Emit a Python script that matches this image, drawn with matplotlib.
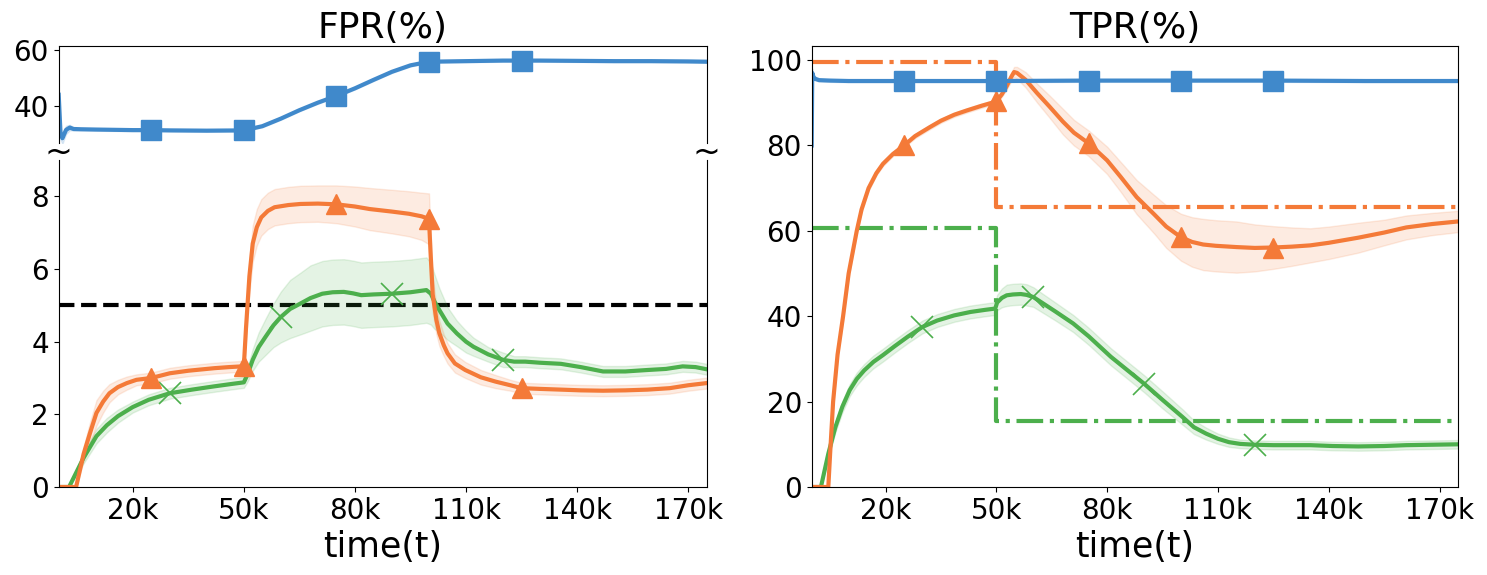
import numpy as np
import matplotlib
matplotlib.use("Agg")
import matplotlib.pyplot as plt

# colours
blue = '#4089cb'
orange = '#f47a38'
green = '#4caf4c'

# ---- FPR (left) ----
fpr_blue_t = [0, 0.5, 1, 2, 3, 4, 6, 10, 15, 20, 25, 30, 40, 50, 55, 60, 65, 70, 75, 80,
              85, 90, 95, 100, 105, 110, 115, 120, 125, 130, 140, 150, 160, 170, 175]
fpr_blue = [44, 30, 28.5, 31.5, 32.3, 31.8, 31.7, 31.6, 31.5, 31.4, 31.4, 31.3, 31.2, 31.3, 32.8,
            35.5, 38.5, 41.2, 43.6, 46.3, 49.3, 52.2, 54.5, 55.8, 55.9, 56.0, 56.1, 56.2, 56.2,
            56.2, 56.1, 56.0, 56.0, 55.9, 55.8]
fpr_blue_sd = [3, 2, 2, 1.5, 1, 0.6] + [0.4] * 29

fpr_orange_t = [0, 4.7, 6.7, 8.5, 10.2, 12, 13.7, 16, 18.4, 21, 25, 30, 35, 42, 46, 49.5, 50,
                50.6, 51.5, 52.4, 53.5, 54.7, 56.5, 58.3, 62, 65.3, 70, 75, 80, 84, 90, 94.6, 98,
                100, 100.4, 101, 102, 102.8, 104, 105, 107, 109.8, 114, 118, 122, 125, 130,
                135.6, 141, 147, 153, 159, 165, 170, 175]
fpr_orange = [0, 0, 0.9, 1.5, 2.04, 2.35, 2.58, 2.75, 2.86, 2.95, 3.0, 3.13, 3.2, 3.27, 3.3,
              3.32, 3.33, 4.4, 5.8, 6.7, 7.15, 7.42, 7.6, 7.7, 7.76, 7.79, 7.8, 7.78, 7.72, 7.65,
              7.58, 7.52, 7.45, 7.38, 6.5, 5.3, 4.6, 4.23, 3.9, 3.68, 3.4, 3.22, 3.02, 2.9, 2.8,
              2.72, 2.7, 2.68, 2.66, 2.65, 2.66, 2.68, 2.72, 2.8, 2.86]
fpr_orange_sd = [0, 0, 0.2, 0.3, 0.35, 0.3, 0.25, 0.2, 0.18, 0.15, 0.15, 0.15, 0.15, 0.15, 0.15,
                 0.15, 0.15, 0.3, 0.45, 0.5, 0.5, 0.5, 0.5, 0.5, 0.5, 0.5, 0.5, 0.52, 0.55, 0.58,
                 0.6, 0.62, 0.65, 0.7, 0.6, 0.5, 0.4, 0.35, 0.3, 0.28, 0.25, 0.22, 0.2, 0.18, 0.15,
                 0.15, 0.15, 0.15, 0.15, 0.15, 0.15, 0.15, 0.15, 0.15, 0.15]

fpr_green_t = [0, 2.8, 6.7, 10.2, 13, 16, 20, 24.3, 30, 36, 42, 47, 50, 51, 52.4, 54, 55.9, 58,
               60, 62.5, 65.3, 68, 71.2, 74, 77, 79.5, 81.7, 85, 90, 95, 99.3, 100.5, 101.5,
               102.8, 105, 107.5, 110, 112, 116, 120, 123, 126, 130, 135.6, 141, 147, 153, 159,
               164, 168.5, 172, 175]
fpr_green = [0, 0, 0.8, 1.4, 1.7, 1.95, 2.2, 2.4, 2.58, 2.68, 2.77, 2.84, 2.88, 3.1, 3.5, 3.85,
             4.14, 4.45, 4.68, 4.9, 5.05, 5.2, 5.32, 5.36, 5.37, 5.33, 5.28, 5.3, 5.32, 5.36, 5.42,
             5.32, 5.1, 4.87, 4.5, 4.23, 4.0, 3.86, 3.65, 3.5, 3.45, 3.45, 3.42, 3.39, 3.3, 3.18,
             3.18, 3.22, 3.25, 3.32, 3.3, 3.24]
fpr_green_sd = [0, 0, 0.15, 0.2, 0.2, 0.18, 0.15, 0.15, 0.15, 0.15, 0.15, 0.15, 0.15, 0.2, 0.3,
                0.4, 0.5, 0.6, 0.7, 0.8, 0.85, 0.9, 0.9, 0.9, 0.9, 0.9, 0.9, 0.9, 0.9, 0.9, 0.9,
                0.85, 0.75, 0.6, 0.45, 0.35, 0.3, 0.25, 0.2, 0.2] + [0.15] * 12

fpr_limit = 5

# ---- TPR (right) ----
tpr_blue_t = [0, 0.15, 0.5, 1, 2, 5, 10, 25, 50, 75, 100, 125, 150, 175]
tpr_blue = [80, 97, 96, 95.6, 95.3, 95.2, 95.1, 95.1, 95.1, 95.2, 95.2, 95.2, 95.1, 95.1]
tpr_blue_sd = [1, 1, 0.6, 0.4] + [0.3] * 10

tpr_orange_t = [0, 4.5, 5, 5.8, 7, 8.5, 10, 12.2, 13.5, 15.4, 17.5, 19.3, 22, 25, 28, 32, 35,
                38.6, 42, 46, 50, 51.5, 52.8, 54, 54.8, 55.6, 57.9, 61, 64.4, 68, 71, 75, 80,
                83.7, 88, 92.7, 96, 100, 103, 106, 109.4, 115, 120, 125, 130, 135, 140, 148, 155,
                161, 168, 175]
tpr_orange = [0, 0, 8, 20, 31, 40, 50, 60, 65, 70, 73.5, 75.7, 78, 80, 82.2, 84.3, 85.8, 87.2,
              88.2, 89.3, 90.3, 92, 93.9, 96, 97.2, 97.0, 95.4, 92.3, 89.1, 85.6, 83, 80.5, 76.5,
              72.6, 67.9, 63.9, 61, 58.5, 57.4, 56.8, 56.5, 56.2, 56.0, 56.1, 56.3, 56.6, 57.2,
              58.4, 59.6, 60.8, 61.6, 62.2]
tpr_orange_sd = [0, 0, 0.5, 0.8, 0.8, 0.8, 0.8, 0.7, 0.6, 0.6, 0.5, 0.5, 0.5, 0.5, 0.5, 0.5, 0.5,
                 0.5, 0.5, 0.5, 0.5, 0.6, 0.8, 1.0, 1.2, 1.4, 1.8, 2.2, 2.6, 3, 3, 3, 3.2, 3.5, 4,
                 4.5, 5, 5.5, 5.8, 6, 6, 6, 5.5, 5, 4.5, 4, 3.8, 3.5, 3, 2.8, 2.6, 2.5]

tpr_green_t = [0, 2.5, 4.5, 6.4, 8.3, 10.3, 12.2, 14.2, 16.7, 19.3, 22.5, 26, 30, 34, 38.6, 43,
               47, 49.7, 50.2, 51.5, 52.8, 54.5, 56.6, 58.2, 60, 63, 66, 70.8, 75, 81, 85, 90,
               95, 100.4, 103.5, 106.8, 110, 113, 116, 120, 125, 130, 135, 141, 148, 155, 161,
               168, 175]
tpr_green = [0, 0, 7.8, 14, 18.8, 22.7, 25.3, 27.3, 29.3, 30.9, 33.0, 35.2, 37.5, 39.0, 40.2,
             41.0, 41.5, 41.8, 43.2, 44.3, 44.9, 45.1, 45.2, 45.0, 44.5, 42.8, 41.1, 38.3, 35.3,
             30.5, 27.7, 24.2, 20.4, 16.4, 14.0, 12.5, 11.3, 10.5, 10.1, 9.9, 9.8, 9.8, 9.8, 9.6,
             9.5, 9.6, 9.8, 9.9, 10.0]
tpr_green_sd = [0, 0, 1, 1.2, 1.3, 1.4] + [1.5] * 12 + [1.8, 2.2, 2.5, 2.5, 2.5, 2.5, 2.3, 2.2,
                2.1, 2, 2, 2, 2, 2, 2, 1.8, 1.6, 1.4, 1.2, 1.1, 1, 1] + [1] * 9

# target levels (before / after 50k)
target_t = [0, 50, 50, 175]
target_orange = [99.6, 99.6, 65.5, 65.5]
target_green = [60.7, 60.7, 15.5, 15.5]

square_at = [25, 50, 75, 100, 125]
tri_at = [25, 50, 75, 100, 125]
x_at = [30, 60, 90, 120]

xticks = [20, 50, 80, 110, 140, 170]
xticklabels = ['20k', '50k', '80k', '110k', '140k', '170k']


def curve(ax, t, y, sd, color, marker, at, ms=14, mew=1.0):
    t = np.array(t)
    y = np.array(y)
    sd = np.array(sd)
    idx = [list(t).index(v) for v in at]
    ax.fill_between(t, y - sd, y + sd, color=color, alpha=0.15, lw=1)
    ax.plot(t, y, color=color, lw=3, marker=marker, markevery=idx, ms=ms, mew=mew)


fig = plt.figure(figsize=(14.87, 5.75), dpi=100)
W, H = 1487, 575
ax_top = fig.add_axes([58.7 / W, 1 - 143 / H, 648 / W, 97 / H])
ax_low = fig.add_axes([58.7 / W, 1 - 487 / H, 648 / W, 327 / H])
ax_r = fig.add_axes([811.7 / W, 1 - 487 / H, 646.3 / W, 441 / H])

# top part of broken FPR axis
curve(ax_top, fpr_blue_t, fpr_blue, fpr_blue_sd, blue, 's', square_at)
ax_top.set_xlim(0, 175)
ax_top.set_ylim(26.8, 61.4)
ax_top.set_yticks([40, 60])
ax_top.spines['bottom'].set_visible(False)
ax_top.set_xticks([])
ax_top.set_title('FPR(%)', fontsize=26)

# lower part
ax_low.axhline(fpr_limit, color='black', lw=3, ls='--', zorder=1)
curve(ax_low, fpr_green_t, fpr_green, fpr_green_sd, green, 'x', x_at, ms=16, mew=1.2)
curve(ax_low, fpr_orange_t, fpr_orange, fpr_orange_sd, orange, '^', tri_at)
ax_low.set_xlim(0, 175)
ax_low.set_ylim(0, 9)
ax_low.set_yticks([0, 2, 4, 6, 8])
ax_low.spines['top'].set_visible(False)
ax_low.set_xticks(xticks)
ax_low.set_xticklabels(xticklabels)
ax_low.set_xlabel('time(t)', fontsize=25)

# break marks
for xf in [58.7 / W, 706.7 / W]:
    fig.text(xf, 1 - 152 / H, '~', ha='center', va='center', fontsize=24)

# TPR
ax_r.plot(target_t, target_orange, color=orange, lw=3, ls='-.')
ax_r.plot(target_t, target_green, color=green, lw=3, ls='-.')
curve(ax_r, tpr_green_t, tpr_green, tpr_green_sd, green, 'x', x_at, ms=16, mew=1.2)
curve(ax_r, tpr_orange_t, tpr_orange, tpr_orange_sd, orange, '^', tri_at)
curve(ax_r, tpr_blue_t, tpr_blue, tpr_blue_sd, blue, 's', square_at)
ax_r.set_xlim(0, 175)
ax_r.set_ylim(0, 103.3)
ax_r.set_yticks([0, 20, 40, 60, 80, 100])
ax_r.set_xticks(xticks)
ax_r.set_xticklabels(xticklabels)
ax_r.set_xlabel('time(t)', fontsize=25)
ax_r.set_title('TPR(%)', fontsize=26)

for ax in [ax_top, ax_low, ax_r]:
    ax.tick_params(labelsize=20)

fig.savefig('out.png', dpi=100)
